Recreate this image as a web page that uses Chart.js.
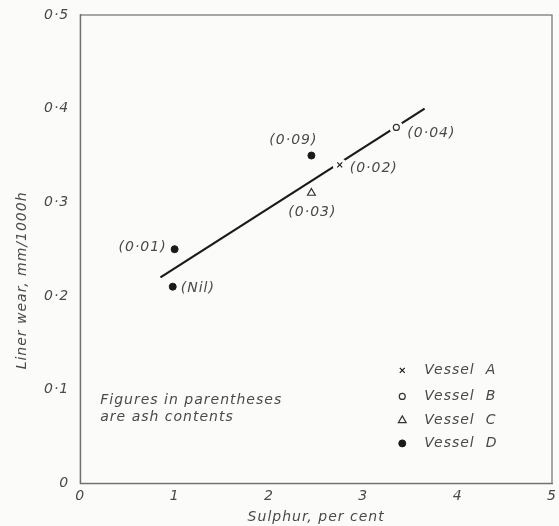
<!DOCTYPE html>
<html>
<head>
<meta charset="utf-8">
<script src="https://cdn.jsdelivr.net/npm/chart.js@4/dist/chart.umd.min.js"></script>
<style>
  html, body { margin: 0; padding: 0; background: #fbfbfa; }
  #wrap { width: 559px; height: 526px; position: relative; }
</style>
</head>
<body>
<div id="wrap"><canvas id="c" width="559" height="526"></canvas></div>
<script>
// Sulphur content (per cent) and liner wear (mm/1000h) for each vessel
const sulphurA = [2.75];
const wearA    = [0.34];
const ashA     = ['(0·02)'];

const sulphurB = [3.35];
const wearB    = [0.38];
const ashB     = ['(0·04)'];

const sulphurC = [2.45];
const wearC    = [0.31];
const ashC     = ['(0·03)'];

const sulphurD = [1.0, 0.98, 2.45];
const wearD    = [0.25, 0.21, 0.35];
const ashD     = ['(0·01)', '(Nil)', '(0·09)'];

// Fitted trend line end points
const fitX = [0.85, 3.65];
const fitY = [0.22, 0.40];

// Axis tick labels and titles
const xTickLabels = ['0', '1', '2', '3', '4', '5'];
const yTickLabels = ['0', '0·1', '0·2', '0·3', '0·4', '0·5'];
const xTitle = 'Sulphur, per cent';
const yTitle = 'Liner wear, mm/1000h';

const INK = '#1a1a1a';
const TEXT = '#4a4a4a';
const AXIS = '#707070';
const PAPER = '#fbfbfa';
const FONT = '"DejaVu Sans", "Liberation Sans", sans-serif';

const pts = (xs, ys) => xs.map((x, i) => ({ x, y: ys[i] }));

// Where each ash-content label sits relative to its point
const labelPlacement = {
  A: [{ dx: 10, dy: 3, align: 'left' }],
  B: [{ dx: 11, dy: 6, align: 'left' }],
  C: [{ dx: 1, dy: 19, align: 'center' }],
  D: [
    { dx: -8, dy: -2, align: 'right' },
    { dx: 8, dy: 2, align: 'left' },
    { dx: 6, dy: -15, align: 'right' }
  ]
};

// Wide, lettering-stencil look for all text
const spacingPlugin = {
  id: 'spacing',
  beforeInit(chart) { chart.ctx.letterSpacing = '1px'; },
  beforeLayout(chart) { chart.ctx.letterSpacing = '1px'; },
  beforeDraw(chart) { chart.ctx.letterSpacing = '1px'; }
};

const boxPlugin = {
  id: 'frame',
  afterDraw(chart) {
    const { ctx, chartArea: a } = chart;
    ctx.save();
    ctx.strokeStyle = AXIS;
    ctx.lineWidth = 1.2;
    ctx.strokeRect(a.left, a.top, a.right - a.left, a.bottom - a.top);

    // Vertical axis title, set a little below the middle of the axis
    ctx.font = 'italic 14px ' + FONT;
    ctx.fillStyle = TEXT;
    ctx.textAlign = 'center';
    ctx.textBaseline = 'middle';
    ctx.translate(22, a.bottom - 203);
    ctx.rotate(-Math.PI / 2);
    ctx.fillText(yTitle, 0, 0);
    ctx.restore();
  }
};

const ashLabelPlugin = {
  id: 'ashLabels',
  afterDatasetsDraw(chart) {
    const { ctx } = chart;
    ctx.save();
    ctx.font = 'italic 14px ' + FONT;
    ctx.fillStyle = TEXT;
    ctx.textBaseline = 'middle';
    chart.data.datasets.forEach((ds, di) => {
      if (!ds.ashLabels) return;
      const meta = chart.getDatasetMeta(di);
      const place = labelPlacement[ds.key];
      meta.data.forEach((el, i) => {
        const p = place[i];
        ctx.textAlign = p.align;
        ctx.fillText(ds.ashLabels[i], el.x + p.dx, el.y + p.dy);
      });
    });
    ctx.restore();
  }
};

const notesPlugin = {
  id: 'notes',
  afterDraw(chart) {
    const { ctx, chartArea: a } = chart;
    ctx.save();
    ctx.font = 'italic 14px ' + FONT;
    ctx.fillStyle = TEXT;
    ctx.textBaseline = 'middle';
    ctx.textAlign = 'left';
    ctx.fillText('Figures in parentheses', a.left + 20, a.bottom - 83);
    ctx.fillText('are ash contents', a.left + 20, a.bottom - 66);

    // Key, drawn inside the plot area
    const keyItems = chart.data.datasets.filter(d => d.inKey);
    const mx = a.left + 322, tx = a.left + 344;
    const ys = [a.bottom - 113, a.bottom - 87, a.bottom - 63, a.bottom - 40];
    keyItems.forEach((ds, i) => {
      const y = ys[i];
      ctx.strokeStyle = ds.borderColor;
      ctx.fillStyle = ds.backgroundColor;
      ctx.lineWidth = ds.borderWidth;
      Chart.helpers.drawPoint(ctx, {
        pointStyle: ds.pointStyle,
        radius: ds.pointRadius,
        rotation: 0,
        borderWidth: ds.borderWidth
      }, mx, y);
      ctx.fillStyle = TEXT;
      ctx.fillText(ds.label, tx, y);
    });
    ctx.restore();
  }
};

new Chart(document.getElementById('c'), {
  type: 'scatter',
  data: {
    datasets: [
      {
        key: 'A', label: 'Vessel  A', inKey: true,
        data: pts(sulphurA, wearA), ashLabels: ashA,
        pointStyle: 'crossRot', pointRadius: 3.5, borderWidth: 1.2,
        borderColor: INK, backgroundColor: INK, order: 1
      },
      {
        key: 'B', label: 'Vessel  B', inKey: true,
        data: pts(sulphurB, wearB), ashLabels: ashB,
        pointStyle: 'circle', pointRadius: 3, borderWidth: 1.2,
        borderColor: '#333', backgroundColor: PAPER, order: 1
      },
      {
        key: 'C', label: 'Vessel  C', inKey: true,
        data: pts(sulphurC, wearC), ashLabels: ashC,
        pointStyle: 'triangle', pointRadius: 4.5, borderWidth: 1.2,
        borderColor: '#333', backgroundColor: 'rgba(0,0,0,0)', order: 1
      },
      {
        key: 'D', label: 'Vessel  D', inKey: true,
        data: pts(sulphurD, wearD), ashLabels: ashD,
        pointStyle: 'circle', pointRadius: 3.5, borderWidth: 1,
        borderColor: INK, backgroundColor: INK, order: 1
      },
      // Pale halo so the trend line breaks around the A and B marks
      {
        key: 'halo', label: 'halo',
        data: pts(sulphurA.concat(sulphurB), wearA.concat(wearB)),
        pointStyle: 'circle', pointRadius: 7, borderWidth: 0,
        borderColor: PAPER, backgroundColor: PAPER, order: 2
      },
      {
        key: 'fit', label: 'fit', type: 'line',
        data: pts(fitX, fitY),
        borderColor: INK, borderWidth: 2.2, pointRadius: 0,
        fill: false, tension: 0, order: 3
      }
    ]
  },
  options: {
    responsive: false,
    animation: false,
    events: [],
    layout: { padding: { top: 15, right: 0, left: 42, bottom: 0 } },
    plugins: {
      legend: { display: false },
      tooltip: { enabled: false }
    },
    scales: {
      x: {
        type: 'linear', min: 0, max: 5,
        grid: { display: false, drawOnChartArea: false, drawTicks: true, tickLength: 4, tickColor: AXIS },
        border: { display: true, color: AXIS, width: 1.2 },
        ticks: {
          stepSize: 1, color: TEXT, padding: 1,
          font: { family: FONT, size: 14, style: 'italic' },
          callback: (v) => xTickLabels[v]
        },
        title: {
          display: true, text: xTitle, color: TEXT,
          font: { family: FONT, size: 14, style: 'italic' },
          padding: { top: 3, bottom: 0 }
        }
      },
      y: {
        type: 'linear', min: 0, max: 0.5,
        grid: { display: false, drawOnChartArea: false, drawTicks: true, tickLength: 9, tickColor: AXIS },
        border: { display: true, color: AXIS, width: 1.2 },
        ticks: {
          stepSize: 0.1, color: TEXT, padding: 2,
          font: { family: FONT, size: 14, style: 'italic' },
          callback: (v) => yTickLabels[Math.round(v * 10)]
        },
        title: { display: false }
      }
    }
  },
  plugins: [spacingPlugin, boxPlugin, ashLabelPlugin, notesPlugin]
});
</script>
</body>
</html>
